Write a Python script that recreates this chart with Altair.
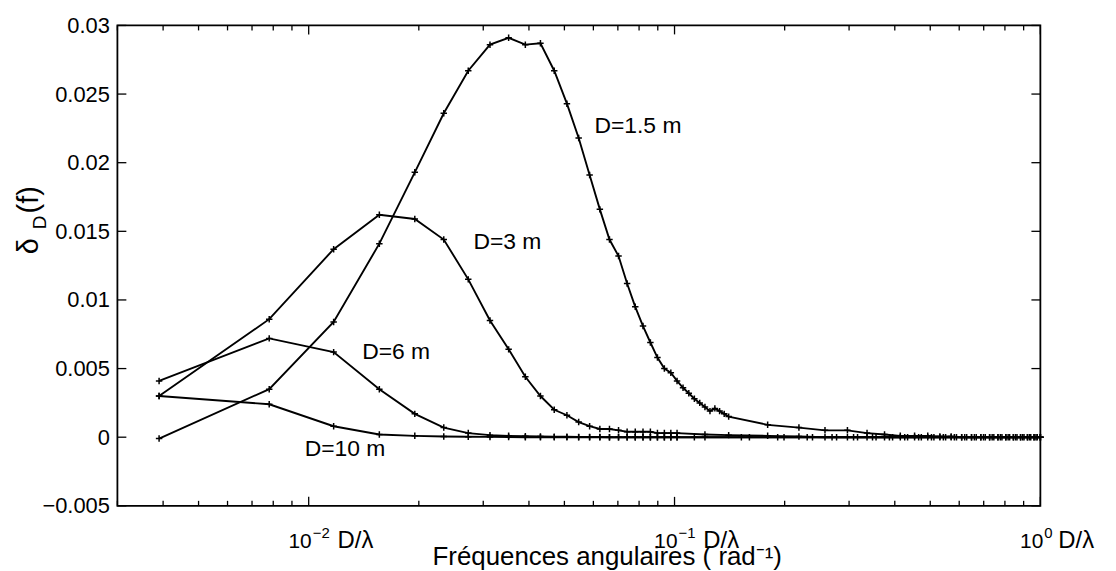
import altair as alt
import pandas as pd

# ---------------- data ----------------
X_LOW = [0.0039, 0.0078, 0.0117, 0.0156, 0.0195, 0.0234, 0.0273, 0.0313, 0.0352, 0.0391,
         0.0430, 0.0469, 0.0508, 0.0547, 0.0586, 0.0625, 0.0664, 0.0703, 0.0742, 0.0781,
         0.0820, 0.0859, 0.0898, 0.0938, 0.0977, 0.1016]
X_MID15 = [0.1055, 0.1094, 0.1133, 0.1172, 0.1211, 0.1250, 0.1289, 0.1328, 0.1367, 0.1406]
X_MID3 = [0.1211, 0.1406]
X_TAIL_A = [0.1797, 0.2188, 0.2578, 0.2969, 0.3359, 0.3750, 0.4141, 0.4531, 0.4922, 0.5313,
            0.5703, 0.6094, 0.6484, 0.6875, 0.7266, 0.7656, 0.8047, 0.8438, 0.8828, 0.9219,
            0.9609, 1.0]
X_TAIL_B = [0.1133, 0.1523, 0.1914, 0.2305, 0.2695, 0.3086, 0.3477, 0.3867, 0.4258, 0.4648,
            0.5039, 0.5430, 0.5820, 0.6211, 0.6602, 0.6992, 0.7383, 0.7773, 0.8164, 0.8555,
            0.8945, 0.9336, 0.9727, 1.0]
X_TAIL_C = [0.1211, 0.1602, 0.1992, 0.2383, 0.2773, 0.3164, 0.3555, 0.3945, 0.4336, 0.4727,
            0.5117, 0.5508, 0.5898, 0.6289, 0.6680, 0.7070, 0.7461, 0.7852, 0.8242, 0.8633,
            0.9023, 0.9414, 0.9805, 1.0]

Y_15 = [-0.0001, 0.0035, 0.0084, 0.0141, 0.0193, 0.0236, 0.0267, 0.0286, 0.0291, 0.0286,
        0.0287, 0.0267, 0.0243, 0.0218, 0.0191, 0.0166, 0.0144, 0.0132, 0.0112, 0.0095,
        0.0081, 0.0069, 0.0058, 0.0050, 0.0047, 0.0041, 0.0036, 0.0032, 0.0028, 0.0025,
        0.0022, 0.0019, 0.0021, 0.0019, 0.0017, 0.0015,
        0.0009, 0.0007, 0.0005, 0.0005, 0.0003, 0.0002, 0.0001, 0.0001, 0.0001, 0.00005,
        0.00005, 0.0, 0.0, 0.0, 0.0, 0.0, 0.0, 0.0, 0.0, 0.0, 0.0, 0.0]
Y_3 = [0.0030, 0.0086, 0.0137, 0.0162, 0.0159, 0.0144, 0.0115, 0.0085, 0.0064, 0.0044,
       0.0030, 0.0020, 0.0016, 0.0011, 0.0008, 0.0006, 0.0006, 0.0005, 0.0004, 0.0004,
       0.0004, 0.0004, 0.0003, 0.0003, 0.0003, 0.0003,
       0.0002, 0.00015,
       0.0001, 0.00005, 0.0, 0.0, 0.0, 0.0, 0.0, 0.0, 0.0, 0.0, 0.0, 0.0, 0.0, 0.0, 0.0,
       0.0, 0.0, 0.0, 0.0, 0.0, 0.0, 0.0]
Y_6 = [0.0041, 0.0072, 0.0062, 0.0035, 0.0017, 0.0007, 0.0003, 0.00015, 0.0001, 0.00007,
       0.00005, 0.00004, 0.00003, 0.00002, 0.00002, 0.00001, 0.0, 0.0, 0.0, 0.0,
       0.0, 0.0, 0.0, 0.0, 0.0, 0.0,
       0.0, 0.0, 0.0, 0.0, 0.0, 0.0, 0.0, 0.0, 0.0, 0.0, 0.0, 0.0, 0.0, 0.0, 0.0, 0.0,
       0.0, 0.0, 0.0, 0.0, 0.0, 0.0, 0.0, 0.0]
Y_10 = [0.0030, 0.0024, 0.0008, 0.0002, 0.0001, 0.00005, 0.00003, 0.00002, 0.00001, 0.0,
        0.0, 0.0, 0.0, 0.0, 0.0, 0.0, 0.0, 0.0, 0.0, 0.0, 0.0, 0.0, 0.0, 0.0, 0.0, 0.0,
        0.0, 0.0, 0.0, 0.0, 0.0, 0.0, 0.0, 0.0, 0.0, 0.0, 0.0, 0.0, 0.0, 0.0, 0.0, 0.0,
        0.0, 0.0, 0.0, 0.0, 0.0, 0.0, 0.0, 0.0]

SERIES = ["D=1.5 m", "D=3 m", "D=6 m", "D=10 m"]
X_BY_SERIES = [X_LOW + X_MID15 + X_TAIL_A, X_LOW + X_MID3 + X_TAIL_A,
               X_LOW + X_TAIL_B, X_LOW + X_TAIL_C]
Y_BY_SERIES = [Y_15, Y_3, Y_6, Y_10]

LABEL_X = [0.0604, 0.0282, 0.0140, 0.00975]
LABEL_Y = [0.02266, 0.0142, 0.00623, -0.00087]

X_MAJOR = [0.01, 0.1, 1.0]
X_MAJOR_EXP = ["\u22122", "\u22121", "0"]
X_MINOR = [0.003, 0.004, 0.005, 0.006, 0.007, 0.008, 0.009,
           0.02, 0.03, 0.04, 0.05, 0.06, 0.07, 0.08, 0.09,
           0.2, 0.3, 0.4, 0.5, 0.6, 0.7, 0.8, 0.9]
Y_TICKS = [-0.005, 0.0, 0.005, 0.01, 0.015, 0.02, 0.025, 0.03]

rows = []
for name, xs, ys in zip(SERIES, X_BY_SERIES, Y_BY_SERIES):
    for xv, yv in zip(xs, ys):
        rows.append({"x": xv, "y": yv, "serie": name})
df = pd.DataFrame(rows)
labels_df = pd.DataFrame({"x": LABEL_X, "y": LABEL_Y, "t": SERIES})
xmaj_df = pd.DataFrame({"v": X_MAJOR, "e": X_MAJOR_EXP})
xmin_df = pd.DataFrame({"v": X_MINOR})
ytick_df = pd.DataFrame({"v": Y_TICKS})

# ---------------- styling ----------------
FONT = "Liberation Sans"
W, H = 928, 483
TICK_FS = 22
xscale = alt.Scale(type="log", domain=[0.003, 1.0], nice=False)
yscale = alt.Scale(domain=[-0.005, 0.03], nice=False, zero=False)

x_axis = alt.Axis(orient="bottom", labels=False, ticks=False, domain=False, grid=False,
                  title="Fr\u00e9quences angulaires ( rad\u207b\u00b9)",
                  titleFont=FONT, titleFontSize=26, titleFontWeight="normal",
                  titleColor="black", titleBaseline="alphabetic", titleY=59, titleX=492)
y_axis = alt.Axis(orient="left", values=Y_TICKS, format=".3~f", ticks=False,
                  domain=False, grid=False, labelFont=FONT, labelFontSize=TICK_FS,
                  labelColor="black", labelPadding=8, title="")

lines = alt.Chart(df).mark_line(color="black", strokeWidth=1.9).encode(
    x=alt.X("x:Q", scale=xscale, axis=x_axis),
    y=alt.Y("y:Q", scale=yscale, axis=y_axis),
    detail="serie:N",
)

points = alt.Chart(df).mark_point(shape="M-1,0L1,0M0,-1L0,1", filled=False, color="black",
                                  strokeWidth=1.5, size=42, opacity=1).encode(
    x=alt.X("x:Q", scale=xscale, axis=None),
    y=alt.Y("y:Q", scale=yscale, axis=None),
    detail="serie:N",
)

texts = alt.Chart(labels_df).mark_text(font=FONT, fontSize=23, align="left",
                                       baseline="middle", color="black").encode(
    x=alt.X("x:Q", scale=xscale, axis=None),
    y=alt.Y("y:Q", scale=yscale, axis=None),
    text="t:N",
)

# inward ticks (box style), positioned through the scales
def xrule(data, y0, y1):
    return alt.Chart(data).mark_rule(color="black", strokeWidth=1.3).encode(
        x=alt.X("v:Q", scale=xscale, axis=None), y=alt.value(y0), y2=alt.value(y1))

def yrule(x0, x1):
    return alt.Chart(ytick_df).mark_rule(color="black", strokeWidth=1.3).encode(
        y=alt.Y("v:Q", scale=yscale, axis=None), x=alt.value(x0), x2=alt.value(x1))

ticks = [xrule(xmaj_df, H, H - 9), xrule(xmin_df, H, H - 5),
         xrule(xmaj_df, 0, 9), xrule(xmin_df, 0, 5),
         yrule(0, 9), yrule(W, W - 9)]

# x tick labels: 10^n with a raised exponent, followed by D/lambda
def xlab(text_enc, dx, dy, fs, align, flt=None):
    base = alt.Chart(xmaj_df)
    if flt:
        base = base.transform_filter(flt)
    return base.mark_text(font=FONT, fontSize=fs, align=align, dx=dx,
                          baseline="alphabetic", color="black").encode(
        x=alt.X("v:Q", scale=xscale, axis=None), y=alt.value(H + dy), text=text_enc)

xlabels = [xlab(alt.value("10"), 3, 42, 21, "right"),
           xlab(alt.Text("e:N"), 4, 32, 15, "left"),
           xlab(alt.value("D/\u03bb"), 29, 42, 24, "left", "datum.v < 0.5"),
           xlab(alt.value("D/\u03bb"), 18, 42, 24, "left", "datum.v >= 0.5")]

one = alt.Data(values=[{"k": 0}])
ytitle_delta = alt.Chart(one).mark_text(font=FONT, fontSize=29, angle=270, align="center",
                                        baseline="alphabetic", color="black").encode(
    x=alt.value(-80), y=alt.value(222), text=alt.value("\u03b4"))
ytitle_sub = alt.Chart(one).mark_text(font=FONT, fontSize=19, angle=270, align="center",
                                      baseline="alphabetic", color="black").encode(
    x=alt.value(-72), y=alt.value(198), text=alt.value("D"))
ytitle_f = alt.Chart(one).mark_text(font=FONT, fontSize=29, angle=270, align="left",
                                    baseline="alphabetic", color="black").encode(
    x=alt.value(-80), y=alt.value(189), text=alt.value("(f)"))

chart = alt.layer(lines, points, texts, *ticks, *xlabels,
                  ytitle_delta, ytitle_sub, ytitle_f).resolve_axis(
    x="independent", y="independent"
).properties(
    width=W, height=H,
    autosize=alt.AutoSizeParams(type="none"),
    padding={"left": 110, "top": 16, "right": 68, "bottom": 64},
    background="white",
).configure_view(stroke="black", strokeWidth=1.8)

chart.save("out.html", embed_options={"renderer": "svg", "actions": False})
